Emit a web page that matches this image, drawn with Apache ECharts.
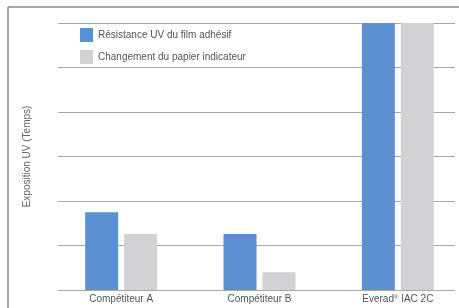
<!DOCTYPE html>
<html>
  <head>
    <meta charset="utf-8">
    <title>Exposition UV</title>
    <style>
      html, body { margin: 0; background: #fff; overflow: hidden; }
      /* a little wider than the window: the original picture is cropped on the right */
      #chart { width: 470px; height: 308px; }
    </style>
  </head>
  <body>
    <div id="chart"></div>
    <script src="https://cdn.jsdelivr.net/npm/echarts@6/dist/echarts.min.js"></script>
    <script>
      // values (y axis in grid units, 0..6)
      var categories = ["Compétiteur A", "Compétiteur B", "Everad{sup|®} IAC 2C"];
      var resistanceUV = [1.75, 1.26, 6];
      var changementPapier = [1.26, 0.4, 6];
      var seriesNames = ["Résistance UV du film adhésif", "Changement du papier indicateur"];
      var yTicks = [0, 1, 2, 3, 4, 5, 6];

      var font = "Liberation Sans";
      var chart = echarts.init(document.getElementById("chart"));

      chart.setOption({
        animation: false,
        textStyle: { fontFamily: font },
        graphic: [
          { type: "line", shape: { x1: 8, y1: 7, x2: 470, y2: 7 }, style: { stroke: "#8a8a8a", lineWidth: 1.5 } },
          { type: "line", shape: { x1: 8, y1: 7, x2: 8, y2: 308 }, style: { stroke: "#8a8a8a", lineWidth: 1.5 } }
        ],
        legend: {
          orient: "vertical",
          left: 80,
          top: 28,
          padding: 0,
          itemWidth: 13,
          itemHeight: 14,
          itemGap: 8,
          icon: "rect",
          textStyle: { fontFamily: font, fontSize: 10, color: "#555" },
          data: seriesNames
        },
        grid: [
          // grid 0 only draws the horizontal rules and the axis title
          { left: 58, right: 15, top: 23, bottom: 18 },
          // grid 1 holds the bars
          { left: 52, width: 415, top: 23, bottom: 18 }
        ],
        xAxis: [
          { type: "value", gridIndex: 0, show: false, min: 0, max: 1 },
          {
            type: "category",
            gridIndex: 1,
            data: categories,
            axisLine: { show: false },
            axisTick: { show: false },
            axisLabel: {
              margin: 4,
              fontSize: 10,
              color: "#555",
              fontFamily: font,
              rich: { sup: { fontSize: 6, verticalAlign: "top", color: "#555", padding: [0, 0, 4, 0] } }
            }
          }
        ],
        yAxis: [
          {
            type: "value",
            gridIndex: 0,
            min: yTicks[0],
            max: yTicks[yTicks.length - 1],
            interval: 1,
            name: "Exposition UV (Temps)",
            nameLocation: "middle",
            nameGap: 26,
            nameTextStyle: { fontSize: 10, color: "#666", fontFamily: font },
            axisLine: { show: false },
            axisTick: { show: false },
            axisLabel: { show: false },
            splitLine: { lineStyle: { color: "#a8a8a8", width: 1 } }
          },
          {
            type: "value",
            gridIndex: 1,
            min: yTicks[0],
            max: yTicks[yTicks.length - 1],
            show: false,
            splitLine: { show: false }
          }
        ],
        series: [
          {
            name: seriesNames[0],
            type: "bar",
            xAxisIndex: 1,
            yAxisIndex: 1,
            barWidth: 33,
            barGap: "18%",
            itemStyle: { color: "#5b90d2" },
            data: resistanceUV
          },
          {
            name: seriesNames[1],
            type: "bar",
            xAxisIndex: 1,
            yAxisIndex: 1,
            barWidth: 33,
            itemStyle: { color: "#d2d2d5" },
            data: changementPapier
          }
        ]
      });
    </script>
  </body>
</html>
